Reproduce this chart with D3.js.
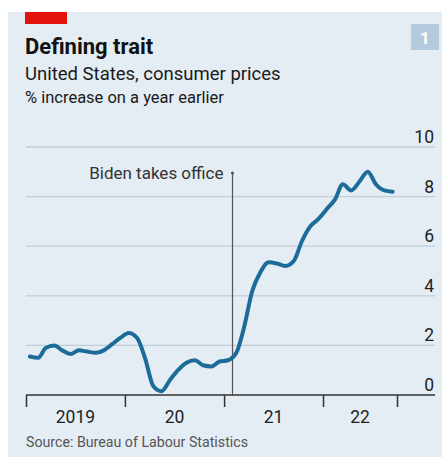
<!DOCTYPE html>
<html>
<head>
<meta charset="utf-8">
<script src="https://cdn.jsdelivr.net/npm/d3@7"></script>
<style>
  html, body { margin: 0; padding: 0; background: #ffffff; }
  svg { display: block; }
  text { font-family: Roboto, "Noto Sans", sans-serif; }
</style>
</head>
<body>
<div id="chart"></div>
<script>
// US consumer prices, % increase on a year earlier, monthly Jan 2019 – Sep 2022
const startMonth = "2019-01";
const cpi2019 = [1.55, 1.5, 1.9, 2.0, 1.8, 1.65, 1.8, 1.75, 1.7, 1.8, 2.05, 2.3];
const cpi2020 = [2.5, 2.3, 1.5, 0.35, 0.15, 0.6, 1.0, 1.3, 1.4, 1.2, 1.15, 1.35];
const cpi2021 = [1.4, 1.7, 2.7, 4.2, 4.95, 5.35, 5.3, 5.2, 5.4, 6.2, 6.8, 7.1];
const cpi2022 = [7.5, 7.9, 8.5, 8.25, 8.6, 9.0, 8.5, 8.25, 8.2];

const yTicks = [0, 2, 4, 6, 8, 10];
const xTickDates = ["2019-01-01", "2020-01-01", "2021-01-01", "2022-01-01", "2022-10-01"];
const xLabels = ["2019", "20", "21", "22"];

const annotationDate = "2021-02-01";
const annotationText = "Biden takes office";

const title = "Defining trait";
const subtitle = "United States, consumer prices";
const unitLine = "% increase on a year earlier";
const source = "Source: Bureau of Labour Statistics";
const badge = "1";

const W = 442, H = 457;
const parse = d3.timeParse("%Y-%m-%d");

const values = [].concat(cpi2019, cpi2020, cpi2021, cpi2022);
const start = parse(startMonth + "-01");
const series = values.map((v, i) => ({
  date: d3.timeDay.offset(d3.timeMonth.offset(start, i), 14),
  value: v
}));

const tickDates = xTickDates.map(parse);

const x = d3.scaleTime()
  .domain([tickDates[0], tickDates[tickDates.length - 1]])
  .range([26, 397]);
const y = d3.scaleLinear().domain([0, 10]).range([395, 147]);
const gridLeft = 26, gridRight = 435;

const svg = d3.select("#chart").append("svg")
  .attr("width", W).attr("height", H);

// panel
svg.append("rect").attr("x", 8).attr("y", 12).attr("width", W - 8).attr("height", H - 12)
  .attr("fill", "#e4ecf4");
svg.append("rect").attr("x", 25).attr("y", 12).attr("width", 42).attr("height", 12)
  .attr("fill", "#e3120b");

// badge
svg.append("rect").attr("x", 411).attr("y", 24).attr("width", 28).attr("height", 26)
  .attr("fill", "#b4cbdf");
svg.append("text").attr("x", 425).attr("y", 44).attr("text-anchor", "middle")
  .attr("font-size", 17).attr("font-weight", 700).attr("fill", "#ffffff").text(badge);

// headings
svg.append("text").attr("x", 25).attr("y", 54).attr("font-size", 22).attr("font-weight", 700)
  .attr("fill", "#121212").text(title);
svg.append("text").attr("x", 25).attr("y", 80).attr("font-size", 18.5)
  .attr("fill", "#1a1a1a").text(subtitle);
svg.append("text").attr("x", 25).attr("y", 103).attr("font-size", 16.5)
  .attr("fill", "#1a1a1a").text(unitLine);

// horizontal gridlines and value labels
const grid = svg.append("g");
grid.selectAll("line").data(yTicks.filter(d => d !== 0)).join("line")
  .attr("x1", gridLeft).attr("x2", gridRight)
  .attr("y1", d => y(d)).attr("y2", d => y(d))
  .attr("stroke", "#c3ccd6").attr("stroke-width", 1.3);
grid.selectAll("text").data(yTicks).join("text")
  .attr("x", 434).attr("y", d => y(d) - 4)
  .attr("text-anchor", "end").attr("font-size", 17.5).attr("fill", "#222")
  .text(d => d);

// annotation
const ax = x(parse(annotationDate));
svg.append("line").attr("x1", ax).attr("x2", ax).attr("y1", 173).attr("y2", y(0))
  .attr("stroke", "#555").attr("stroke-width", 1.2);
svg.append("circle").attr("cx", ax).attr("cy", 173).attr("r", 1.6).attr("fill", "#555");
svg.append("text").attr("x", ax - 9).attr("y", 179).attr("text-anchor", "end")
  .attr("font-size", 17).attr("fill", "#333").text(annotationText);

// data line
const line = d3.line().x(d => x(d.date)).y(d => y(d.value)).curve(d3.curveMonotoneX);
svg.append("path").datum(series)
  .attr("fill", "none").attr("stroke", "#1c6c99").attr("stroke-width", 4)
  .attr("stroke-linejoin", "round").attr("stroke-linecap", "round")
  .attr("d", line);

// x axis
const xAxis = d3.axisBottom(x).tickValues(tickDates).tickSize(12).tickFormat("");
const gx = svg.append("g").attr("transform", `translate(0,${y(0)})`).call(xAxis);
gx.select(".domain").remove();
gx.selectAll(".tick line").attr("stroke", "#333").attr("stroke-width", 1.5);
svg.append("line").attr("x1", gridLeft).attr("x2", gridRight)
  .attr("y1", y(0)).attr("y2", y(0)).attr("stroke", "#333").attr("stroke-width", 1.5);

svg.append("g").selectAll("text").data(xLabels).join("text")
  .attr("x", (d, i) => (x(tickDates[i]) + x(tickDates[i + 1])) / 2)
  .attr("y", 423).attr("text-anchor", "middle").attr("font-size", 17.5).attr("fill", "#222")
  .text(d => d);

// source
svg.append("text").attr("x", 26).attr("y", 447).attr("font-size", 14.2)
  .attr("fill", "#555").text(source);
</script>
</body>
</html>
